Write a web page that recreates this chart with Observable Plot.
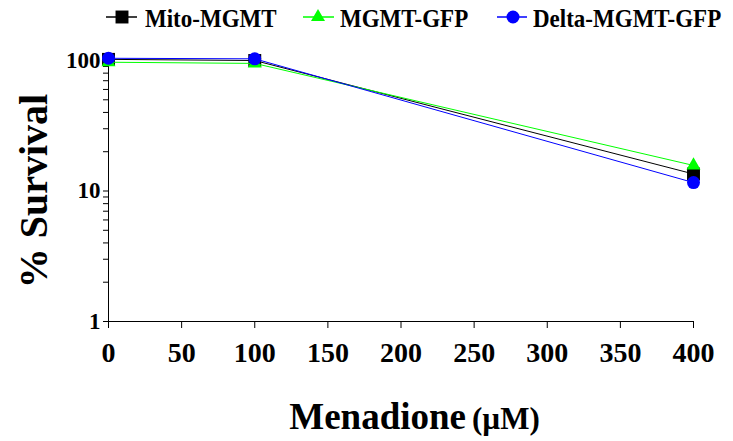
<!DOCTYPE html>
<html>
<head>
<meta charset="utf-8">
<script src="https://cdn.jsdelivr.net/npm/d3@7"></script>
<script src="https://cdn.jsdelivr.net/npm/@observablehq/plot@0.6"></script>
<style>
  html, body { margin: 0; padding: 0; background: #fff; }
  #wrap { position: relative; width: 733px; height: 441px; font-family: "Liberation Serif", "Times New Roman", serif; }
  #legend { position: relative; width: 733px; height: 34px; }
  .item { position: absolute; top: 0; height: 34px; }
  .item svg { position: absolute; top: 0; left: 0; overflow: visible; }
  .item span { position: absolute; top: 7px; font-weight: bold; font-size: 23px; line-height: 26px; white-space: nowrap; color: #000;
    transform: scaleY(1.12); transform-origin: 0 20px; }
</style>
</head>
<body>
<div id="wrap">
  <div id="legend"></div>
  <div id="chart"></div>
</div>
<script>
// ---- data ----
const doses = [0, 100, 400];
const mitoMGMT = [102, 100, 13.5];
const mgmtGFP = [97, 95, 15.7];
const deltaMGMTGFP = [104, 103, 11.6];

const seriesNames = ["Mito-MGMT", "MGMT-GFP", "Delta-MGMT-GFP"];
const seriesColors = ["#000000", "#00ff00", "#0000ff"];
const seriesSymbols = ["square", "triangle", "circle"];
const seriesValues = [mitoMGMT, mgmtGFP, deltaMGMTGFP];

const xTicks = [0, 50, 100, 150, 200, 250, 300, 350, 400];
const yTicks = [1, 2, 3, 4, 5, 6, 7, 8, 9, 10, 20, 30, 40, 50, 60, 70, 80, 90, 100];
const yLabeled = [1, 10, 100];

const xLabel = "Menadione";
const xUnit = "(\u00b5M)";
const yLabel = "% Survival";

// ---- build rows ----
const rows = [];
seriesNames.forEach((name, i) => {
  doses.forEach((d, j) => rows.push({series: name, dose: d, value: seriesValues[i][j]}));
});

const font = `"Liberation Serif", "Times New Roman", serif`;
const symbolR = {square: 7.3, triangle: 5.2, circle: 6.5};

const marks = [
  Plot.ruleX([0], {stroke: "#000", strokeWidth: 1}),
  Plot.ruleY([1], {stroke: "#000", strokeWidth: 1}),
  Plot.axisX({ticks: xTicks, tickSize: 7, tickPadding: 14, fontSize: 28, fontWeight: "bold", label: null, stroke: "#000", fill: "#000"}),
  Plot.axisY({ticks: yTicks, tickSize: 5, tickPadding: 3, fontSize: 23, fontWeight: "bold", label: null,
    tickFormat: d => yLabeled.includes(d) ? String(d) : "", stroke: "#000", fill: "#000"})
];
seriesNames.forEach((name, i) => {
  const data = rows.filter(r => r.series === name);
  marks.push(Plot.line(data, {x: "dose", y: "value", stroke: seriesColors[i], strokeWidth: 1}));
  marks.push(Plot.dot(data, {x: "dose", y: "value", symbol: () => seriesSymbols[i], r: symbolR[seriesSymbols[i]],
    fill: seriesColors[i], stroke: "none"}));
});
marks.push(Plot.text([yLabel], {frameAnchor: "left", text: d => d, rotate: -90, dx: -62, dy: 0,
  lineAnchor: "bottom", textAnchor: "middle", fontSize: 40, fontWeight: "bold", fill: "#000"}));
marks.push(Plot.text([xLabel], {frameAnchor: "bottom", text: d => d, dx: 65, dy: 107,
  lineAnchor: "bottom", textAnchor: "end", fontSize: 37, fontWeight: "bold", fill: "#000"}));
marks.push(Plot.text([xUnit], {frameAnchor: "bottom", text: d => d, dx: 71, dy: 107,
  lineAnchor: "bottom", textAnchor: "start", fontSize: 31, fontWeight: "bold", fill: "#000"}));

const chart = Plot.plot({
  width: 733,
  height: 407,
  marginTop: 26,
  marginBottom: 120,
  marginLeft: 108,
  marginRight: 40,
  style: {fontFamily: font, color: "#000", background: "#fff", overflow: "visible"},
  x: {type: "linear", domain: [0, 400]},
  y: {type: "log", domain: [1, 100]},
  symbol: {type: "identity"},
  marks
});
document.getElementById("chart").appendChild(chart);

// ---- legend ----
const legendPos = [
  {line: [106, 137], mark: 122, text: 145},
  {line: [303, 334], mark: 318, text: 340},
  {line: [497, 527], mark: 513, text: 533}
];
const legend = d3.select("#legend");
seriesNames.forEach((name, i) => {
  const p = legendPos[i];
  const item = legend.append("div").attr("class", "item").style("left", "0px");
  const svg = item.append("svg").attr("width", 733).attr("height", 34);
  svg.append("line").attr("x1", p.line[0]).attr("x2", p.line[1]).attr("y1", 17).attr("y2", 17)
    .attr("stroke", seriesColors[i]).attr("stroke-width", 1.5);
  const sym = {square: d3.symbolSquare, triangle: d3.symbolTriangle, circle: d3.symbolCircle}[seriesSymbols[i]];
  const r = symbolR[seriesSymbols[i]];
  svg.append("path").attr("transform", `translate(${p.mark},17)`)
    .attr("d", d3.symbol(sym, Math.PI * r * r)()).attr("fill", seriesColors[i]);
  item.append("span").style("left", p.text + "px").text(name);
});
</script>
</body>
</html>
